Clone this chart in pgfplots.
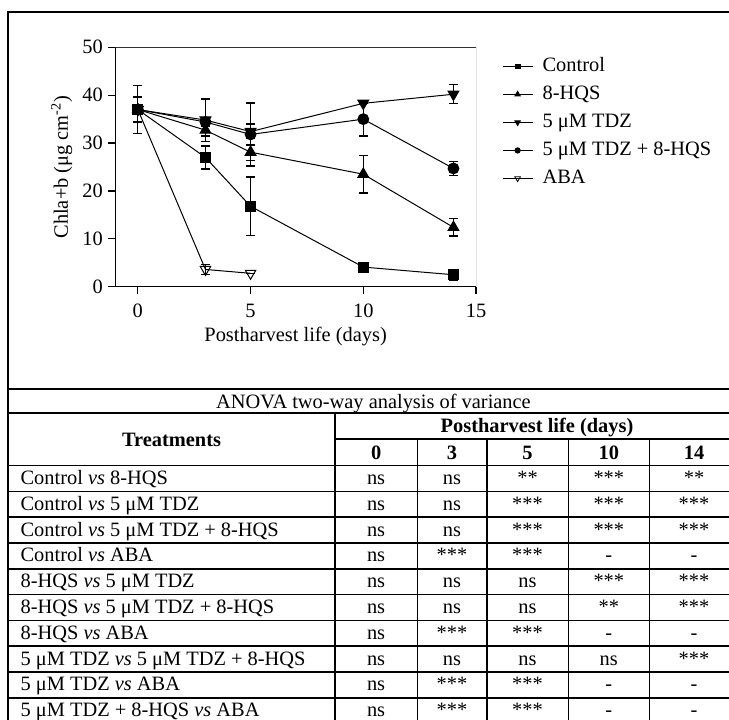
\documentclass[border=0pt]{standalone}
\usepackage{pgfplots}
\pgfplotsset{compat=1.18}
\usepackage{fontspec}
\setmainfont{Liberation Serif}

\pgfplotstableread{
x y e
0 37.0 5.0
3 27.0 2.4
5 16.8 6.1
10 4.1 0
14 2.5 1.1
}\control
\pgfplotstableread{
x y e
0 37.0 2.6
3 32.7 1.2
5 28.1 2.9
10 23.5 3.9
14 12.4 1.8
}\hqs
\pgfplotstableread{
x y e
0 37.0 0.8
3 34.8 4.4
5 32.4 6.0
10 38.3 0
14 40.2 2.0
}\tdz
\pgfplotstableread{
x y e
0 37.0 0.8
3 34.4 1.0
5 31.8 2.2
10 35.0 3.5
14 24.7 1.5
}\tdzhqs
\pgfplotstableread{
x y e
0 37.0 0
3 3.6 1.0
5 2.8 0
}\aba

\newcommand{\trow}[7]{%
  \node[anchor=base west] at (13,#1) {#2};
  \node[anchor=base] at (376.1,#1) {#3};
  \node[anchor=base] at (452,#1) {#4};
  \node[anchor=base] at (527.5,#1) {#5};
  \node[anchor=base] at (608.8,#1) {#6};
  \node[anchor=base] at (694,#1) {#7};
}

\begin{document}
\fontsize{10.2pt}{12pt}\selectfont
\begin{tikzpicture}
\path[use as bounding box] (0,0) rectangle (364.5pt,-359.5pt);
\clip (0,0) rectangle (364.5pt,-359.5pt);
\begin{axis}[
  at={(57.65pt,-143.35pt)}, anchor=south west,
  scale only axis, width=180.35pt, height=119.7pt,
  xmin=-1, xmax=15, ymin=0, ymax=50,
  xtick={0,5,10,15}, ytick={0,10,20,30,40,50},
  axis x line*=bottom, axis y line*=left,
  axis line style={line width=0.75pt, -, black},
  tick align=outside, major tick length=3.5pt,
  tick style={line width=0.6pt, black},
  /pgf/number format/assume math mode=true,
  xticklabel style={yshift=-1.5pt},
  yticklabel style={inner xsep=2.5pt},
  xlabel={Postharvest life (days)},
  ylabel={Chla+b (μg cm\textsuperscript{-2})},
  xlabel style={at={(axis description cs:0.5,-0.2063)}, anchor=center},
  ylabel style={at={(axis description cs:-0.1486,0.5)}, anchor=center},
  legend image code/.code={\path[draw=none, fill=none] (0pt,-4.25pt) rectangle (20pt,4.25pt);
    \draw[mark repeat=2,mark phase=2,#1] plot coordinates {(0pt,0pt)(7.5pt,0pt)(15pt,0pt)};},
  legend style={draw=none, fill=none, at={(axis description cs:1.0713,0.9573)}, anchor=north west,
    inner sep=0pt, nodes={inner sep=0pt, text height=7pt, text depth=1.5pt}, row sep=5.5pt},
  legend cell align=left,
  eb/.style={error bars/.cd, y dir=both, y explicit,
    error bar style={line width=0.65pt, black},
    error mark options={rotate=90, mark size=2.2pt, line width=0.65pt, black}},
]
\addplot[black, line width=0.5pt, mark=triangle, mark size=3pt, mark options={solid, fill=white, rotate=180, line width=0.5pt}, forget plot, eb] table[x=x, y=y, y error=e] {\aba};
\addplot[black, line width=0.5pt, mark=*, mark size=2.7pt, mark options={solid, fill=black}, forget plot, eb] table[x=x, y=y, y error=e] {\tdzhqs};
\addplot[black, line width=0.5pt, mark=triangle*, mark size=3.1pt, mark options={solid, fill=black, rotate=180}, forget plot, eb] table[x=x, y=y, y error=e] {\tdz};
\addplot[black, line width=0.5pt, mark=triangle*, mark size=3.1pt, mark options={solid, fill=black}, forget plot, eb] table[x=x, y=y, y error=e] {\hqs};
\addplot[black, line width=0.5pt, mark=square*, mark size=2.5pt, mark options={solid, fill=black}, forget plot, eb] table[x=x, y=y, y error=e] {\control};

\addlegendimage{black, line width=0.5pt, mark=square*, mark size=1.2pt, mark options={solid, fill=black}}
\addlegendentry{Control}
\addlegendimage{black, line width=0.5pt, mark=triangle*, mark size=1.5pt, mark options={solid, fill=black}}
\addlegendentry{8-HQS}
\addlegendimage{black, line width=0.5pt, mark=triangle*, mark size=1.5pt, mark options={solid, fill=black, rotate=180}}
\addlegendentry{5 μM TDZ}
\addlegendimage{black, line width=0.5pt, mark=*, mark size=1.3pt, mark options={solid, fill=black}}
\addlegendentry{5 μM TDZ + 8-HQS}
\addlegendimage{black, line width=0.5pt, mark=triangle, mark size=1.6pt, mark options={solid, fill=white, rotate=180, line width=0.4pt}}
\addlegendentry{ABA}

\draw[line width=0.4pt, black!80] (rel axis cs:0,1) -- (rel axis cs:1,1) -- (rel axis cs:1,0);
\end{axis}

\begin{scope}[x=0.5pt, y=-0.5pt, line width=0.8pt]
\draw (7.8,730) -- (7.8,12) -- (750,12);
\draw (7.8,389) -- (750,389);
\draw (7.8,413) -- (750,413);
\draw (335,439) -- (750,439);
\draw (7.8,465.6) -- (750,465.6);
\foreach \y in {491.4,517.2,543.0,568.8,594.6,620.4,646.2,672.0,697.8} \draw (7.8,\y) -- (750,\y);
\draw (335,413) -- (335,730);
\foreach \x in {417.3,486.7,568.3,649.3} \draw (\x,439) -- (\x,730);

\node[anchor=base] at (373.5,408.5) {ANOVA two-way analysis of variance};
\node[anchor=base, font=\bfseries] at (171.5,446) {Treatments};
\node[anchor=base, font=\bfseries] at (537,432.5) {Postharvest life (days)};
\node[anchor=base, font=\bfseries] at (376.1,459) {0};
\node[anchor=base, font=\bfseries] at (452,459) {3};
\node[anchor=base, font=\bfseries] at (527.5,459) {5};
\node[anchor=base, font=\bfseries] at (608.8,459) {10};
\node[anchor=base, font=\bfseries] at (694,459) {14};

\trow{484.4}{Control \textit{vs} 8-HQS}{ns}{ns}{**}{***}{**}
\trow{510.2}{Control \textit{vs} 5 μM TDZ}{ns}{ns}{***}{***}{***}
\trow{536.0}{Control \textit{vs} 5 μM TDZ + 8-HQS}{ns}{ns}{***}{***}{***}
\trow{561.8}{Control \textit{vs} ABA}{ns}{***}{***}{-}{-}
\trow{587.6}{8-HQS \textit{vs} 5 μM TDZ}{ns}{ns}{ns}{***}{***}
\trow{613.4}{8-HQS \textit{vs} 5 μM TDZ + 8-HQS}{ns}{ns}{ns}{**}{***}
\trow{639.2}{8-HQS \textit{vs} ABA}{ns}{***}{***}{-}{-}
\trow{665.0}{5 μM TDZ \textit{vs} 5 μM TDZ + 8-HQS}{ns}{ns}{ns}{ns}{***}
\trow{690.8}{5 μM TDZ \textit{vs} ABA}{ns}{***}{***}{-}{-}
\trow{716.6}{5 μM TDZ + 8-HQS \textit{vs} ABA}{ns}{***}{***}{-}{-}
\end{scope}
\end{tikzpicture}
\end{document}
